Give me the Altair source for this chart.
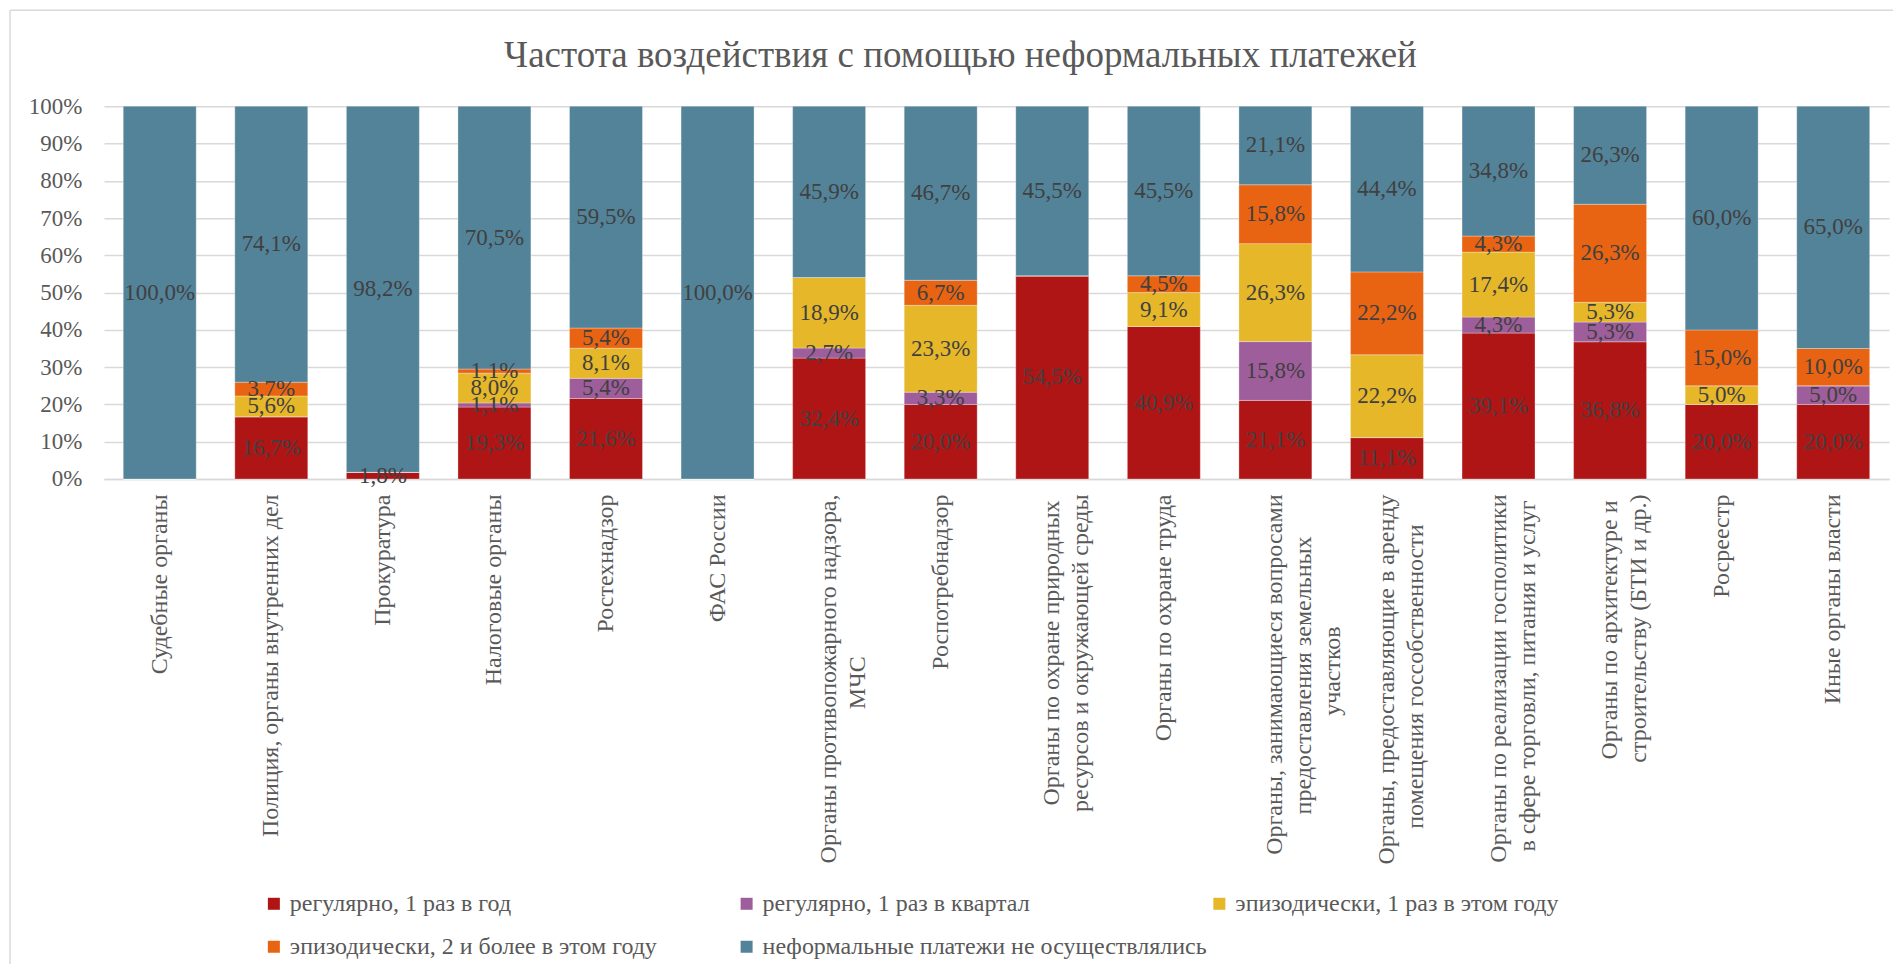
import json
import altair as alt
import pandas as pd

categories = [
    "Судебные органы",
    "Полиция, органы внутренних дел",
    "Прокуратура",
    "Налоговые органы",
    "Ростехнадзор",
    "ФАС России",
    "Органы противопожарного надзора,|МЧС",
    "Роспотребнадзор",
    "Органы по охране природных|ресурсов и окружающей среды",
    "Органы по охране труда",
    "Органы, занимающиеся вопросами|предоставления земельных|участков",
    "Органы, предоставляющие в аренду|помещения госсобственности",
    "Органы по реализации госполитики|в сфере торговли, питания и услуг",
    "Органы по архитектуре и|строительству (БТИ и др.)",
    "Росреестр",
    "Иные органы власти",
]

series = [
    "регулярно, 1 раз в год",
    "регулярно, 1 раз в квартал",
    "эпизодически, 1 раз в этом году",
    "эпизодически, 2 и более в этом году",
    "неформальные платежи не осуществлялись",
]

colors = ["#B01515", "#9E5E9B", "#E6B729", "#E86312", "#538399"]

reg_year = [0, 16.7, 1.8, 19.3, 21.6, 0, 32.4, 20.0, 54.5, 40.9, 21.1, 11.1, 39.1, 36.8, 20.0, 20.0]
reg_quarter = [0, 0, 0, 1.1, 5.4, 0, 2.7, 3.3, 0, 0, 15.8, 0, 4.3, 5.3, 0, 5.0]
epi_once = [0, 5.6, 0, 8.0, 8.1, 0, 18.9, 23.3, 0, 9.1, 26.3, 22.2, 17.4, 5.3, 5.0, 0]
epi_more = [0, 3.7, 0, 1.1, 5.4, 0, 0, 6.7, 0, 4.5, 15.8, 22.2, 4.3, 26.3, 15.0, 10.0]
no_pay = [100.0, 74.1, 98.2, 70.5, 59.5, 100.0, 45.9, 46.7, 45.5, 45.5, 21.1, 44.4, 34.8, 26.3, 60.0, 65.0]

values = [reg_year, reg_quarter, epi_once, epi_more, no_pay]

# layout only: trailing no-break spaces (kept by a zero-width space) that centre
# the shorter lines of the rotated, end-aligned multi-line axis labels
line_pad = {
    "МЧС": 27,
    "предоставления земельных": 7,
    "участков": 22,
    "помещения госсобственности": 5,
    "в сфере торговли, питания и услуг": 1,
    "Органы по архитектуре и": 1,
    "Органы по охране природных": 1,
}
NBSP = "\u00a0"
ZWSP = "\u200b"


def pad_line(ln):
    n = line_pad.get(ln, 0)
    return ln + NBSP * n + ZWSP if n else ln


shown = ["|".join(pad_line(ln) for ln in c.split("|")) for c in categories]
label_expr = "split({}[indexof({}, datum.label)], '|')".format(
    json.dumps(shown, ensure_ascii=False).replace('"', "'"),
    json.dumps(categories, ensure_ascii=False).replace('"', "'"),
)

rows = []
for i, c in enumerate(categories):
    for j, s in enumerate(series):
        v = values[j][i]
        rows.append({"cat": c, "series": s, "order": j, "value": v,
                     "label": f"{v:.1f}".replace(".", ",") + "%"})
df = pd.DataFrame(rows)

FONT = "Liberation Serif"
GRAY = "#595959"

xaxis = alt.Axis(
    title=None, labelAngle=270, labelAlign="right", labelBaseline="middle",
    labelExpr=label_expr, labelFont=FONT, labelFontSize=24,
    labelColor=GRAY, labelPadding=15, ticks=False, domainColor="#D9D9D9",
    domainWidth=1.5, labelLimit=0, labelLineHeight=29, grid=False,
)
xscale = alt.Scale(paddingInner=0.346, paddingOuter=0.173)

yaxis = alt.Axis(
    title=None, format=".0%", values=[i / 10 for i in range(11)],
    domain=False, ticks=False, grid=True, gridColor="#D9D9D9", gridWidth=1.5,
    labelFont=FONT, labelFontSize=23, labelColor=GRAY, labelPadding=22,
)
yscale = alt.Scale(domain=[0, 1])

bars = alt.Chart(df).mark_bar(stroke="#ffffff", strokeWidth=0.6, strokeOpacity=0.5).encode(
    x=alt.X("cat:N", sort=categories, scale=xscale, axis=xaxis),
    y=alt.Y("value:Q", stack="normalize", scale=yscale, axis=yaxis),
    color=alt.Color(
        "series:N",
        scale=alt.Scale(domain=series, range=colors),
        legend=alt.Legend(
            title=None, orient="none", legendX=158, legendY=786, direction="horizontal",
            columns=3, gridAlign="all", columnPadding=-3, rowPadding=19,
            symbolType="square", symbolSize=144, symbolStrokeWidth=0,
            labelFont=FONT, labelFontSize=24, labelColor=GRAY, labelOffset=4,
            labelLimit=0, padding=0,
        ),
    ),
    order=alt.Order("order:Q"),
)

labels = alt.Chart(df).transform_stack(
    stack="value", groupby=["cat"], sort=[alt.SortField("order", "ascending")],
    as_=["v0", "v1"], offset="normalize",
).transform_calculate(
    mid="(datum.v0 + datum.v1) / 2"
).transform_filter(
    "datum.value > 0"
).mark_text(font=FONT, fontSize=23, color="#404040", align="center", baseline="middle").encode(
    x=alt.X("cat:N", sort=categories, scale=xscale, axis=xaxis),
    y=alt.Y("mid:Q", scale=yscale, axis=yaxis),
    text="label:N",
)

one = pd.DataFrame({"a": [0]})
frame_v = alt.Chart(one).mark_rule(color="#D9D9D9", strokeWidth=1.5).encode(
    x=alt.value(-94), y=alt.value(-96), y2=alt.value(900)
)
frame_h = alt.Chart(one).mark_rule(color="#D9D9D9", strokeWidth=1.5).encode(
    x=alt.value(-94), x2=alt.value(1900), y=alt.value(-96)
)

chart = alt.layer(frame_v, frame_h, bars, labels).properties(
    width=1786, height=373,
    padding={"left": 96, "top": 98, "right": 4, "bottom": 485},
    autosize=alt.AutoSizeParams(type="none"),
    title=alt.TitleParams(
        "Частота воздействия с помощью неформальных платежей",
        font=FONT, fontSize=37, color=GRAY, fontWeight="normal",
        anchor="middle", frame="group", offset=0, baseline="alphabetic",
        dx=-36, dy=95,
    ),
).configure_view(stroke=None)

chart.save("out.html", embed_options={"renderer": "svg", "actions": False})
